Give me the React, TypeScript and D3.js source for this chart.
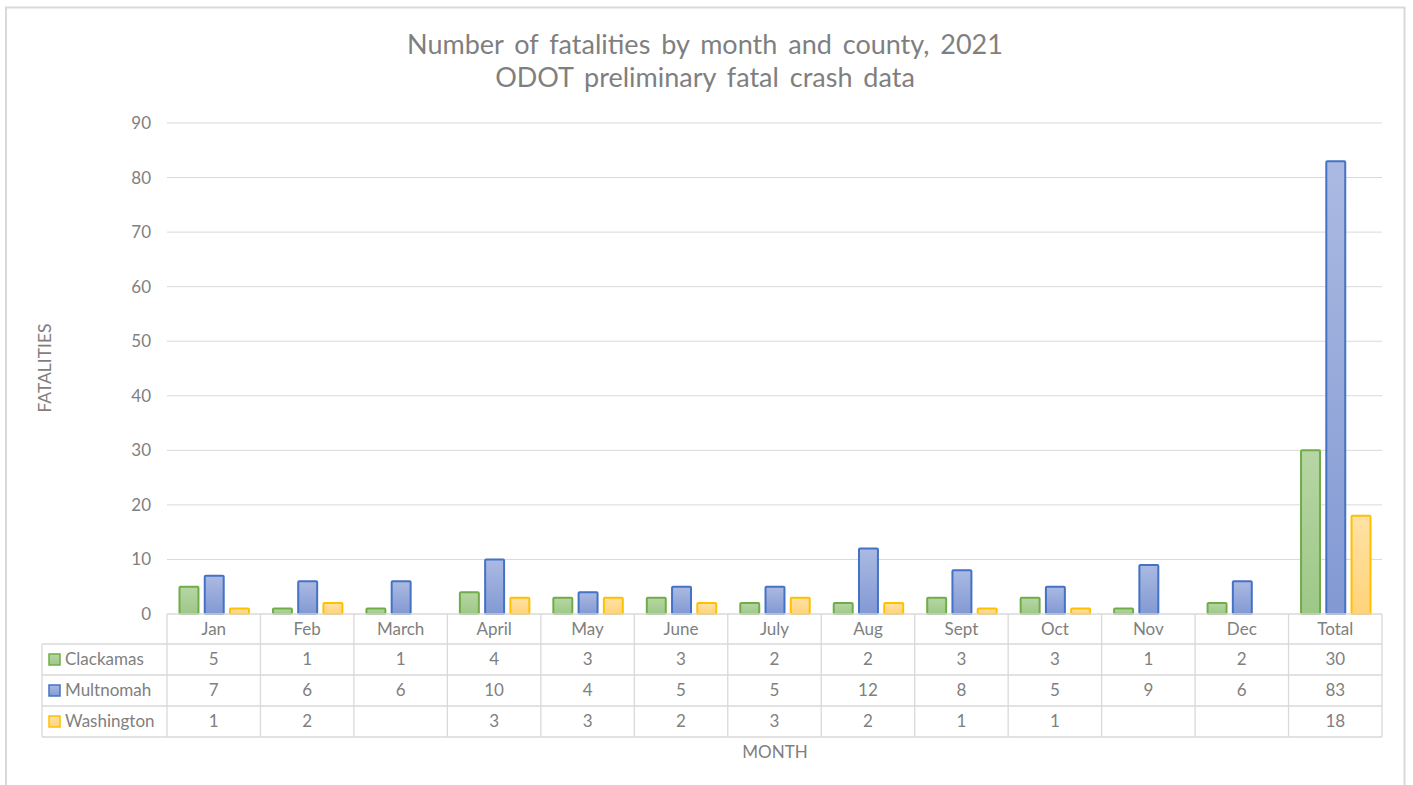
import React from "react";
import * as d3 from "d3";

const categories = ["Jan", "Feb", "March", "April", "May", "June", "July", "Aug", "Sept", "Oct", "Nov", "Dec", "Total"];
const seriesNames = ["Clackamas", "Multnomah", "Washington"];
const clackamas: (number | null)[] = [5, 1, 1, 4, 3, 3, 2, 2, 3, 3, 1, 2, 30];
const multnomah: (number | null)[] = [7, 6, 6, 10, 4, 5, 5, 12, 8, 5, 9, 6, 83];
const washington: (number | null)[] = [1, 2, null, 3, 3, 2, 3, 2, 1, 1, null, null, 18];
const yTicks = [0, 10, 20, 30, 40, 50, 60, 70, 80, 90];

const seriesValues = [clackamas, multnomah, washington];
const strokes = ["#70ad47", "#4472c4", "#ffc000"];
const gradTop = ["#b7d6a4", "#abbae2", "#ffe2a6"];
const gradBot = ["#9dc888", "#8299d3", "#ffd37a"];

const W = 1413;
const H = 785;
const FONT = "Lato, 'Open Sans', sans-serif";
const TEXT = "#808080";
const GRID = "#d9d9d9";
const FS = 17;

export default function App() {
  const left = 167, right = 1382, top = 123, bottom = 614;
  const x0 = d3.scaleBand<string>().domain(categories).range([left, right]).paddingInner(0).paddingOuter(0);
  const bw = x0.bandwidth();
  const x1 = d3.scaleBand<string>().domain(seriesNames).range([11.5, bw - 10.5]).paddingInner(0.17).paddingOuter(0);
  const y = d3.scaleLinear().domain([0, 90]).range([bottom, top]);

  const headerH = 30;
  const rowH = 31;
  const tableTop = bottom;
  const legendLeft = 42;
  const rowsTop = tableTop + headerH;
  const tableBottom = rowsTop + rowH * 3;

  return (
    <svg width={W} height={H} style={{ position: "absolute", left: 0, top: 0, background: "#fff" }} fontFamily={FONT}>
      <defs>
        {seriesNames.map((s, i) => (
          <linearGradient key={s} id={`g${i}`} x1="0" y1="0" x2="0" y2="1">
            <stop offset="0" stopColor={gradTop[i]} />
            <stop offset="1" stopColor={gradBot[i]} />
          </linearGradient>
        ))}
      </defs>
      <rect x={0} y={0} width={W} height={H} fill="#fff" />
      {/* outer border */}
      <path d={`M6,${H} V7.5 H1404.5 V${H}`} fill="none" stroke={GRID} strokeWidth={2} />

      {/* title */}
      <text x={705} y={54} textAnchor="middle" fontSize={27} fill="#7f7f7f" wordSpacing={4}>
        Number of fatalities by month and county, 2021
      </text>
      <text x={705} y={87} textAnchor="middle" fontSize={27} fill="#7f7f7f" wordSpacing={4}>
        ODOT preliminary fatal crash data
      </text>

      {/* gridlines and y ticks */}
      {yTicks.map((t) => (
        <g key={t}>
          {t > 0 && <line x1={left} x2={right} y1={y(t)} y2={y(t)} stroke={GRID} strokeWidth={1} />}
          <text x={151} y={y(t)} dy="0.35em" textAnchor="end" fontSize={FS} fill={TEXT}>
            {t}
          </text>
        </g>
      ))}

      {/* y axis title */}
      <text transform={`translate(51,368) rotate(-90)`} textAnchor="middle" fontSize={17.5} fill="#7f7f7f">
        FATALITIES
      </text>

      {/* bars */}
      {categories.map((c, ci) => (
        <g key={c} transform={`translate(${x0(c)},0)`}>
          {seriesNames.map((s, si) => {
            const v = seriesValues[si][ci];
            if (v === null || v === undefined) return null;
            return (
              <rect
                key={s}
                x={x1(s)! + 1}
                y={y(v)}
                width={x1.bandwidth() - 2}
                height={y(0) - y(v)}
                fill={`url(#g${si})`}
                stroke={strokes[si]}
                strokeWidth={2}
                rx={1}
              />
            );
          })}
        </g>
      ))}

      {/* data table */}
      <g stroke={GRID} strokeWidth={1.3} fill="none">
        <line x1={left} x2={right} y1={tableTop} y2={tableTop} />
        {[0, 1, 2, 3].map((r) => (
          <line key={r} x1={legendLeft} x2={right} y1={rowsTop + r * rowH} y2={rowsTop + r * rowH} />
        ))}
        <line x1={legendLeft} x2={legendLeft} y1={rowsTop} y2={tableBottom} />
        {categories.map((c) => (
          <line key={c} x1={x0(c)!} x2={x0(c)!} y1={tableTop} y2={tableBottom} />
        ))}
        <line x1={right} x2={right} y1={tableTop} y2={tableBottom} />
      </g>

      {categories.map((c) => (
        <text key={c} x={x0(c)! + bw / 2} y={tableTop + headerH / 2} dy="0.35em" textAnchor="middle" fontSize={FS} fill={TEXT}>
          {c}
        </text>
      ))}

      {seriesNames.map((s, si) => {
        const cy = rowsTop + si * rowH + rowH / 2;
        return (
          <g key={s}>
            <rect x={49} y={cy - 5.5} width={11} height={11} fill={`url(#g${si})`} stroke={strokes[si]} strokeWidth={1.5} />
            <text x={65} y={cy} dy="0.35em" fontSize={FS} fill={TEXT}>
              {s}
            </text>
            {categories.map((c, ci) => {
              const v = seriesValues[si][ci];
              if (v === null || v === undefined) return null;
              return (
                <text key={c} x={x0(c)! + bw / 2} y={cy} dy="0.35em" textAnchor="middle" fontSize={FS} fill={TEXT}>
                  {v}
                </text>
              );
            })}
          </g>
        );
      })}

      {/* x axis title */}
      <text x={775} y={752} dy="0.35em" textAnchor="middle" fontSize={FS} fill="#7f7f7f">
        MONTH
      </text>
    </svg>
  );
}
